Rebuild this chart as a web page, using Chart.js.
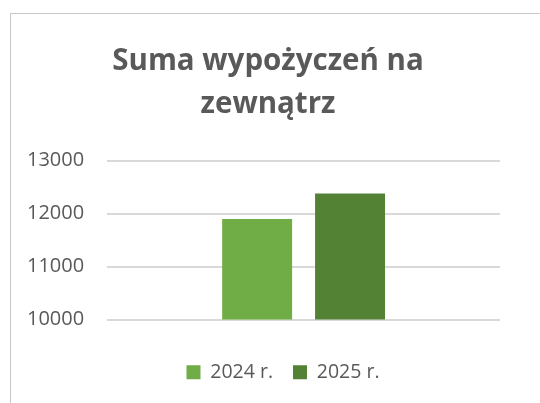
<!DOCTYPE html>
<html>
<head>
<meta charset="utf-8">
<script src="https://cdn.jsdelivr.net/npm/chart.js@4"></script>
<style>
  html, body { margin: 0; padding: 0; background: #fff; }
  #wrap { position: relative; width: 540px; height: 403px; overflow: hidden; }
  #frame { position: absolute; left: 10px; top: 13px; width: 600px; height: 500px;
           border-left: 1px solid #c8c8c8; border-top: 1px solid #c8c8c8; }
  canvas { position: absolute; left: 0; top: 0; }
</style>
</head>
<body>
<div id="wrap">
  <div id="frame"></div>
  <canvas id="chart" width="540" height="403"></canvas>
</div>
<script>
const categories = [''];
const seriesNames = ['2024 r.', '2025 r.'];
const seriesValues = [[11900], [12380]];
const seriesColors = ['#70ad47', '#548235'];
const yTicks = [10000, 11000, 12000, 13000];

const textColor = '#595959';
const fontFamily = '"Open Sans", "Liberation Sans", sans-serif';

// nudge title and legend sideways, like the off-centre Excel layout
const shiftBoxes = {
  id: 'shiftBoxes',
  afterLayout(chart) {
    chart.titleBlock.left += 16;
    chart.titleBlock.right += 16;
    chart.legend.left += 31;
    chart.legend.right += 31;
  },
};

const canvas = document.getElementById('chart');
const context = canvas.getContext('2d');

new Chart(context, {
  type: 'bar',
  data: {
    labels: categories,
    datasets: seriesNames.map((name, i) => ({
      label: name,
      data: seriesValues[i],
      backgroundColor: seriesColors[i],
      borderWidth: 0,
      categoryPercentage: 0.473,
      barPercentage: 0.753,
    })),
  },
  plugins: [shiftBoxes],
  options: {
    responsive: false,
    animation: false,
    layout: {
      padding: { left: 4, right: 40, top: 40, bottom: 11 },
    },
    plugins: {
      title: {
        display: true,
        text: ['Suma wypożyczeń na', 'zewnątrz'],
        color: textColor,
        font: { family: fontFamily, size: 29.5, weight: 'bold', lineHeight: 1.47 },
        padding: { top: 0, bottom: 34 },
      },
      legend: {
        position: 'bottom',
        labels: {
          boxWidth: 14,
          boxHeight: 14,
          padding: 20,
          color: textColor,
          font: { family: fontFamily, size: 19.5 },
        },
      },
      tooltip: { enabled: false },
    },
    scales: {
      x: {
        ticks: { display: false },
        grid: { display: false },
        border: { display: false },
        afterFit: (axis) => { axis.height += 15; },
      },
      y: {
        min: yTicks[0],
        max: yTicks[yTicks.length - 1],
        afterBuildTicks: (axis) => { axis.ticks = yTicks.map((v) => ({ value: v })); },
        ticks: {
          color: textColor,
          padding: 23,
          font: { family: fontFamily, size: 20 },
          callback: (value) => String(value),
        },
        grid: { color: '#d9d9d9', lineWidth: 2, drawTicks: false },
        border: { display: false },
      },
    },
  },
});
</script>
</body>
</html>
